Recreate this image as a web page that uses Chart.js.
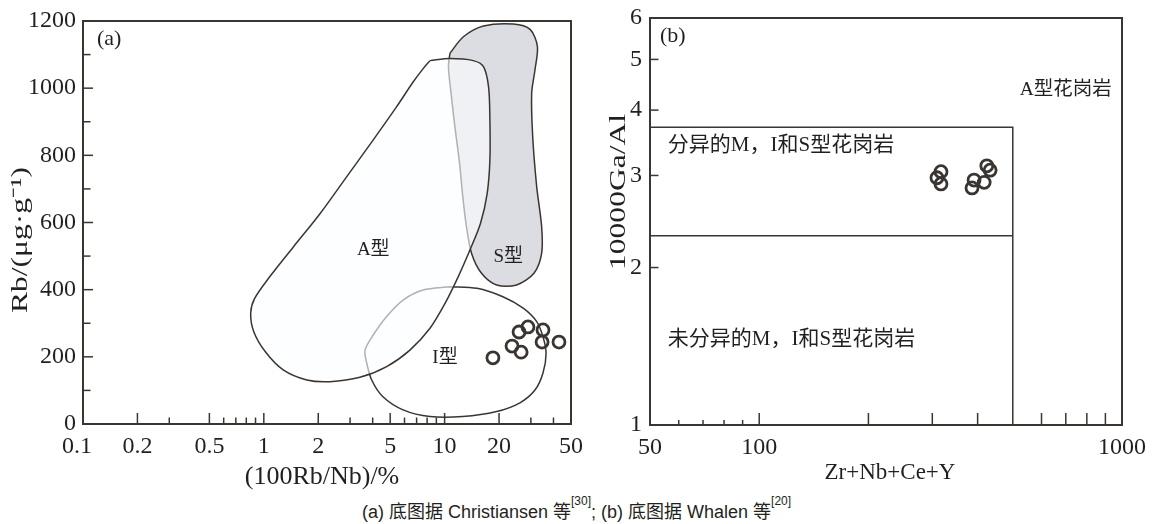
<!DOCTYPE html>
<html><head><meta charset="utf-8">
<script src="https://cdn.jsdelivr.net/npm/chart.js@4/dist/chart.umd.min.js"></script>
<style>
html,body{margin:0;padding:0;background:#fff;width:1153px;height:524px;overflow:hidden}
#wrap{position:relative;width:1153px;height:524px}
canvas{position:absolute;top:0}
#ca{left:0}
#cb{left:600px}
#cap{position:absolute;left:0;width:1153px;top:497px;text-align:center;font:18px "Liberation Sans","Noto Sans CJK SC",sans-serif;color:#231f20;white-space:nowrap}
#cap sup{font-size:12px;vertical-align:top;position:relative;top:-3px}
</style></head>
<body>
<div id="wrap">
<canvas id="ca" width="600" height="492"></canvas>
<canvas id="cb" width="553" height="492"></canvas>
<div id="cap">(a) 底图据 Christiansen 等<sup>[30]</sup>; (b) 底图据 Whalen 等<sup>[20]</sup></div>
</div>
<script>
// ---------------- Panel (a): Rb vs 100Rb/Nb ----------------
const aSampleX = [18.5, 23.6, 26.5, 25.8, 28.9, 35.0, 34.6, 42.9];
const aSampleY = [197, 232, 214, 274, 289, 280, 244, 244];

const aTypeX = [8.30, 10.7, 14.4, 16.4, 17.5, 17.8, 17.8, 17.2, 15.8, 13.8, 11.9, 10.05, 8.30, 6.43, 4.78, 3.40, 2.32, 1.73, 1.28, 1.02, 0.88, 0.846, 0.89, 1.08, 1.46, 2.05, 2.87, 4.03, 5.43, 6.71, 7.63];
const aTypeY = [1082, 1088, 1082, 1064, 1004, 905, 786, 687, 598, 518, 439, 359, 285, 220, 171, 139, 126, 131, 161, 215, 275, 330, 374, 439, 528, 627, 736, 846, 945, 1019, 1059];

const sTypeX = [10.7, 12.7, 16.4, 24.0, 29.7, 32.6, 31.6, 30.3, 30.7, 32.3, 34.4, 34.4, 31.2, 25.0, 19.4, 16.0, 14.1, 13.2, 12.6, 12.1, 11.4, 10.8, 10.5];
const sTypeY = [1104, 1153, 1185, 1191, 1175, 1124, 1054, 985, 856, 707, 588, 508, 449, 414, 414, 449, 508, 588, 677, 776, 885, 995, 1064];

const iTypeX = [10.7, 15.1, 21.0, 27.2, 32.3, 35.0, 36.4, 35.0, 31.6, 26.1, 19.4, 12.6, 8.30, 5.89, 4.56, 3.95, 3.71, 3.63, 4.03, 4.78, 5.89, 7.60];
const iTypeY = [409, 404, 379, 345, 305, 260, 211, 152, 101, 63, 37, 22, 22, 42, 81, 131, 181, 220, 265, 320, 369, 399];

const aXTickLabels = [0.1, 0.2, 0.5, 1, 2, 5, 10, 20, 50];
const aXMajorTicks = [0.2, 0.5, 1, 2, 5, 10, 20];
const aXMinorTicks = [0.3, 0.6, 0.7, 0.8, 0.9, 3, 4, 6, 7, 8, 9, 30, 40];
const aYTickLabels = [0, 200, 400, 600, 800, 1000, 1200];
const aYMinorTicks = [100, 300, 500, 700, 900, 1100];
const aRegionLabels = [
  {text: 'A型', x: 4.03, y: 518},
  {text: 'S型', x: 22.5, y: 498},
  {text: 'I型', x: 10.05, y: 196}
];

// ---------------- Panel (b): 10000Ga/Al vs Zr+Nb+Ce+Y ----------------
const bSampleX = [317, 309, 317, 424, 433, 391, 386, 417];
const bSampleY = [3.05, 2.97, 2.89, 3.13, 3.07, 2.94, 2.84, 2.91];
const bFracBoundX = [50, 500, 500];
const bFracBoundY = [3.71, 3.71, 1];
const bUnfracBoundX = [50, 500];
const bUnfracBoundY = [2.30, 2.30];
const bXTickLabels = [50, 100, 1000];
const bXMajorTicks = [100, 200, 300, 400, 600, 700, 800, 900];
const bXMinorTicks = [60, 70, 80, 90];
const bYTickLabels = [1, 2, 3, 4, 5, 6];
const bYMinorTicks = [2, 3, 4, 5];
const bRegionLabels = [
  {text: 'A型花岗岩', x: 700, y: 4.37},
  {text: '分异的M，I和S型花岗岩', x: 56, y: 3.42, align: 'left'},
  {text: '未分异的M，I和S型花岗岩', x: 56, y: 1.46, align: 'left'}
];

// ---------------- helpers ----------------
const INK = '#3b3532';
const TXT = '#231f20';
const SERIF = '"Liberation Serif","Noto Sans CJK SC",serif';
const pts = (xs, ys, close) => {
  const d = xs.map((x, i) => ({x: x, y: ys[i]}));
  if (close) d.push({x: d[0].x, y: d[0].y});
  return d;
};

const overlay = {
  id: 'overlay',
  afterDatasetsDraw(chart, args, o) {
    const ctx = chart.ctx, a = chart.chartArea;
    const xs = chart.scales.x, ys = chart.scales.y;
    ctx.save();
    ctx.strokeStyle = INK;
    ctx.lineWidth = 1.5;
    const seg = (x1, y1, x2, y2) => { ctx.beginPath(); ctx.moveTo(x1, y1); ctx.lineTo(x2, y2); ctx.stroke(); };
    o.xTicks.forEach(t => t.vals.forEach(v => { const p = xs.getPixelForValue(v); seg(p, a.bottom, p, a.bottom - t.len); }));
    o.yTicks.forEach(t => t.vals.forEach(v => { const p = ys.getPixelForValue(v); seg(a.left, p, a.left + t.len, p); }));
    ctx.lineWidth = 2;
    ctx.strokeRect(a.left, a.top, a.right - a.left, a.bottom - a.top);

    ctx.fillStyle = TXT;
    ctx.textBaseline = 'middle';
    o.labels.forEach((l, i) => {
      ctx.font = o.labelFonts[i] + ' ' + SERIF;
      ctx.textAlign = l.align || 'center';
      ctx.fillText(l.text, xs.getPixelForValue(l.x), ys.getPixelForValue(l.y));
    });
    ctx.font = '22px ' + SERIF;
    ctx.textAlign = 'left';
    ctx.fillText(o.tag, a.left + o.tagDx, a.top + 18);

    ctx.font = o.xTitleFont + ' ' + SERIF;
    ctx.textAlign = 'center';
    ctx.fillText(o.xTitle, (a.left + a.right) / 2 + o.xTitleDx, a.bottom + o.xTitleDy);

    ctx.save();
    ctx.translate(o.yTitleX, o.yTitleY);
    ctx.rotate(-Math.PI / 2);
    ctx.scale(1.37, 1);
    ctx.font = o.yTitleFont + ' ' + SERIF;
    ctx.fillText(o.yTitle, 0, 0);
    ctx.restore();
    ctx.restore();
  }
};

const tickFont = {family: SERIF, size: 24};
const baseOpts = {
  responsive: false,
  animation: false,
  events: [],
  plugins: {legend: {display: false}, tooltip: {enabled: false}}
};
const sampleDs = (data) => ({
  data: data, order: 0, pointStyle: 'circle', pointRadius: 6,
  borderColor: INK, backgroundColor: 'rgba(0,0,0,0)', pointBorderWidth: 2.8, showLine: false
});
const polyDs = (data, order, fill, fillColor, tension) => ({
  data: data, order: order, showLine: true, pointRadius: 0, borderColor: INK, borderWidth: 1.5,
  tension: tension, fill: fill ? 'shape' : false, backgroundColor: fillColor || 'rgba(0,0,0,0)'
});

// ---------------- chart (a) ----------------
new Chart(document.getElementById('ca'), {
  type: 'scatter',
  data: {datasets: [
    sampleDs(pts(aSampleX, aSampleY, false)),
    polyDs(pts(aTypeX, aTypeY, true), 1, true, 'rgba(250,253,255,0.62)', 0.3),
    polyDs(pts(iTypeX, iTypeY, true), 2, false, null, 0.3),
    polyDs(pts(sTypeX, sTypeY, true), 3, true, '#dcdde2', 0.3)
  ]},
  options: Object.assign({}, baseOpts, {
    layout: {padding: {left: 0, top: 21, right: 29, bottom: 0}},
    scales: {
      x: {type: 'logarithmic', min: 0.1, max: 50,
        grid: {display: false, drawTicks: false}, border: {display: false},
        afterBuildTicks: s => { s.ticks = aXTickLabels.map(v => ({value: v})); },
        afterFit: s => { s.height = 68; s.paddingLeft = 0; s.paddingRight = 0; },
        ticks: {autoSkip: false, maxRotation: 0, padding: 8, font: tickFont, color: TXT,
          callback: v => v === 0.1 ? '0.1\u2002' : String(v)}},
      y: {type: 'linear', min: 0, max: 1200,
        grid: {display: false, drawTicks: false}, border: {display: false},
        afterBuildTicks: s => { s.ticks = aYTickLabels.map(v => ({value: v})); },
        afterFit: s => { s.width = 83; s.paddingTop = 0; s.paddingBottom = 0; },
        ticks: {padding: 7, font: tickFont, color: TXT, callback: v => String(v)}}
    },
    plugins: Object.assign({}, baseOpts.plugins, {overlay: {
      xTicks: [{vals: aXMajorTicks, len: 11}, {vals: aXMinorTicks, len: 6.5}],
      yTicks: [{vals: aYTickLabels.slice(1, -1), len: 10}, {vals: aYMinorTicks, len: 7.5}],
      labels: aRegionLabels, labelFonts: ['19px', '19px', '19px'], tag: '(a)', tagDx: 14,
      xTitle: '(100Rb/Nb)/%', xTitleFont: '26px', xTitleDx: -5, xTitleDy: 53,
      yTitle: 'Rb/(μg·g⁻¹)', yTitleFont: '23px', yTitleX: 21, yTitleY: 240
    }})
  }),
  plugins: [overlay]
});

// ---------------- chart (b) ----------------
new Chart(document.getElementById('cb'), {
  type: 'scatter',
  data: {datasets: [
    sampleDs(pts(bSampleX, bSampleY, false)),
    polyDs(pts(bFracBoundX, bFracBoundY, false), 1, false, null, 0),
    polyDs(pts(bUnfracBoundX, bUnfracBoundY, false), 2, false, null, 0)
  ]},
  options: Object.assign({}, baseOpts, {
    layout: {padding: {left: 0, top: 18, right: 31, bottom: 0}},
    scales: {
      x: {type: 'logarithmic', min: 50, max: 1000,
        grid: {display: false, drawTicks: false}, border: {display: false},
        afterBuildTicks: s => { s.ticks = bXTickLabels.map(v => ({value: v})); },
        afterFit: s => { s.height = 67; s.paddingLeft = 0; s.paddingRight = 0; },
        ticks: {autoSkip: false, maxRotation: 0, padding: 8, font: tickFont, color: TXT, callback: v => String(v)}},
      y: {type: 'logarithmic', min: 1, max: 6,
        grid: {display: false, drawTicks: false}, border: {display: false},
        afterBuildTicks: s => { s.ticks = bYTickLabels.map(v => ({value: v})); },
        afterFit: s => { s.width = 50; s.paddingTop = 0; s.paddingBottom = 0; },
        ticks: {autoSkip: false, padding: 8, font: tickFont, color: TXT, callback: v => String(v)}}
    },
    plugins: Object.assign({}, baseOpts.plugins, {overlay: {
      xTicks: [{vals: bXMajorTicks, len: 12}, {vals: bXMinorTicks, len: 5}],
      yTicks: [{vals: bYMinorTicks, len: 8.5}],
      labels: bRegionLabels, labelFonts: ['19.5px', '21px', '21px'], tag: '(b)', tagDx: 10,
      xTitle: 'Zr+Nb+Ce+Y', xTitleFont: '23px', xTitleDx: 4, xTitleDy: 48,
      yTitle: '10000Ga/Al', yTitleFont: '23px', yTitleX: 19, yTitleY: 192
    }})
  }),
  plugins: [overlay]
});
</script>
</body></html>
